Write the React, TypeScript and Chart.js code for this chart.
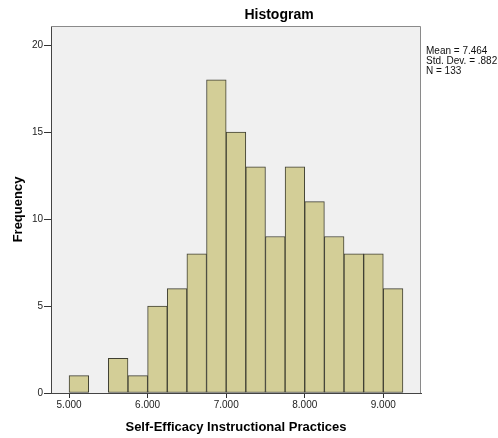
import React, { useEffect, useRef } from "react";
import { Chart, registerables } from "chart.js";

Chart.register(...registerables);

const binStarts = [5.0, 5.25, 5.5, 5.75, 6.0, 6.25, 6.5, 6.75, 7.0, 7.25, 7.5, 7.75, 8.0, 8.25, 8.5, 8.75, 9.0];
const frequencies = [1, 0, 2, 1, 5, 6, 8, 18, 15, 13, 9, 13, 11, 9, 8, 8, 6];
const binWidth = 0.25;
const xTicks = [5, 6, 7, 8, 9];
const yTicks = [0, 5, 10, 15, 20];
const statsLines = ["Mean = 7.464", "Std. Dev. = .882", "N = 133"];
const titleText = "Histogram";
const xTitle = "Self-Efficacy Instructional Practices";
const yTitle = "Frequency";

const FONT = "'Liberation Sans', Arial, sans-serif";

const decorPlugin = {
  id: "decor",
  beforeDraw(chart: any) {
    const { ctx, chartArea: a } = chart;
    ctx.save();
    ctx.fillStyle = "#f0f0f0";
    ctx.fillRect(a.left, a.top, a.right - a.left, a.bottom - a.top);
    ctx.restore();
  },
  afterDraw(chart: any) {
    const { ctx, chartArea: a } = chart;
    ctx.save();
    ctx.strokeStyle = "#8a8a8a";
    ctx.lineWidth = 1;
    ctx.beginPath();
    ctx.moveTo(a.left, a.top + 0.5);
    ctx.lineTo(a.right - 0.5, a.top + 0.5);
    ctx.lineTo(a.right - 0.5, a.bottom);
    ctx.stroke();
    ctx.fillStyle = "#000";
    ctx.font = `bold 14px ${FONT}`;
    ctx.textAlign = "center";
    ctx.textBaseline = "middle";
    ctx.fillText(titleText, a.left + 228, 15);
    ctx.font = `bold 13px ${FONT}`;
    ctx.fillText(xTitle, (a.left + a.right) / 2, a.bottom + 34);
    ctx.save();
    ctx.translate(18, (a.top + a.bottom) / 2);
    ctx.rotate(-Math.PI / 2);
    ctx.fillText(yTitle, 0, 0);
    ctx.restore();
    ctx.font = `10px ${FONT}`;
    ctx.textAlign = "left";
    ctx.fillStyle = "#111";
    statsLines.forEach((s, i) => ctx.fillText(s, a.right + 5, a.top + 25 + i * 10));
    ctx.restore();
  },
};

export default function App() {
  const ref = useRef<HTMLCanvasElement>(null);
  useEffect(() => {
    document.body.style.margin = "0";
    const data = binStarts.map((s, i) => ({ x: s + binWidth / 2, y: frequencies[i] }));
    const chart = new Chart(ref.current!, {
      type: "bar",
      data: {
        datasets: [
          {
            data: data as any,
            backgroundColor: "#d3ce97",
            borderColor: "#3f3f32",
            borderWidth: 1,
            barPercentage: 1,
            categoryPercentage: 1,
            borderSkipped: false,
          },
        ],
      },
      options: {
        animation: false,
        responsive: false,
        layout: { padding: { top: 26, right: 77, left: 0, bottom: 0 } },
        plugins: { legend: { display: false }, tooltip: { enabled: false } },
        scales: {
          x: {
            type: "linear",
            min: 4.77,
            max: 9.48,
            offset: false,
            afterFit(scale: any) {
              scale.height = 45;
            },
            afterBuildTicks(scale: any) {
              scale.ticks = xTicks.map((v) => ({ value: v }));
            },
            ticks: {
              callback: (v: any) => Number(v).toFixed(3),
              font: { family: FONT, size: 10 },
              color: "#222",
              padding: 1,
              maxRotation: 0,
              autoSkip: false,
            },
            grid: { display: true, offset: false, drawOnChartArea: false, drawTicks: true, tickLength: 5, color: "#333" },
            border: { display: true, color: "#444", width: 1 },
          },
          y: {
            type: "linear",
            min: 0,
            max: 21.1,
            afterFit(scale: any) {
              scale.width = 51;
            },
            afterBuildTicks(scale: any) {
              scale.ticks = yTicks.map((v) => ({ value: v }));
            },
            ticks: {
              font: { family: FONT, size: 10 },
              color: "#222",
              padding: 1,
            },
            grid: { display: true, offset: false, drawOnChartArea: false, drawTicks: true, tickLength: 7, color: "#333" },
            border: { display: true, color: "#444", width: 1 },
          },
        },
      },
      plugins: [decorPlugin],
    });
    return () => chart.destroy();
  }, []);
  return (
    <div style={{ width: 498, height: 438, background: "#fff" }}>
      <canvas ref={ref} width={498} height={438} style={{ display: "block" }} />
    </div>
  );
}
